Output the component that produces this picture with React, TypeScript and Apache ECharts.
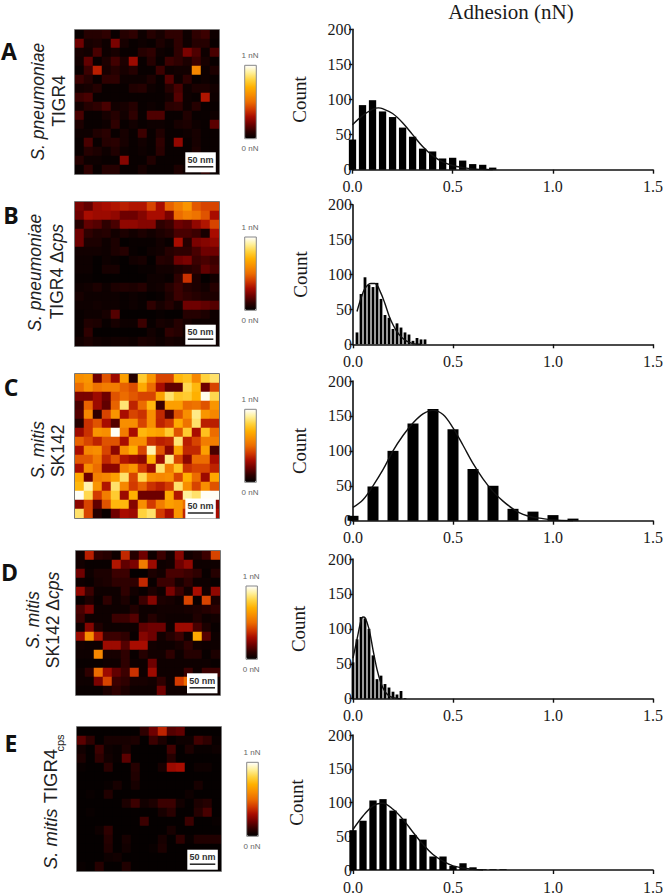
import React, { useEffect, useRef } from "react";
import * as echarts from "echarts";

const mapA = [
  [.02,.08,.08,.1,.02,.08,.1,.03,.08,.05,.1,.1,.03,.1,.12,.03],
  [.2,.05,.06,.03,.22,.05,.02,.03,.02,.06,.03,.1,.03,.08,.08,.02],
  [.05,.04,.14,.03,.05,.02,.02,.08,.1,.03,.02,.1,.22,.15,.03,.14],
  [.04,.18,.02,.06,.13,.06,.28,.02,.08,.02,.12,.1,.06,.12,.05,.02],
  [.02,.12,.34,.05,.08,.05,.08,.02,.02,.12,.03,.04,.04,.58,.03,.06],
  [.12,.08,.02,.1,.1,.03,.03,.03,.06,.02,.16,.03,.1,.02,.03,.02],
  [.04,.05,.08,.02,.02,.02,.07,.08,.03,.02,.08,.14,.03,.06,.06,.04],
  [.12,.14,.02,.02,.02,.02,.02,.02,.02,.02,.04,.16,.03,.02,.32,.03],
  [.04,.08,.1,.14,.04,.05,.08,.02,.03,.02,.09,.1,.03,.08,.02,.02],
  [.14,.02,.02,.05,.08,.04,.1,.02,.15,.15,.02,.02,.07,.02,.02,.03],
  [.06,.02,.02,.03,.1,.02,.04,.02,.03,.03,.02,.05,.06,.03,.02,.17],
  [.03,.03,.07,.09,.02,.05,.02,.12,.02,.07,.02,.02,.03,.05,.02,.02],
  [.02,.14,.02,.08,.09,.05,.02,.04,.02,.1,.02,.26,.02,.05,.02,.02],
  [.02,.08,.06,.03,.07,.03,.02,.03,.02,.09,.02,.02,.02,.06,.02,.02],
  [.08,.03,.03,.02,.02,.24,.02,.02,.07,.02,.02,.02,.02,.02,.02,.02],
  [.02,.1,.02,.08,.08,.02,.02,.05,.02,.02,.02,.06,.03,.02,.1,.02],
];
const mapB = [
  [.22,.18,.28,.3,.32,.34,.32,.32,.42,.3,.48,.55,.62,.46,.42,.42],
  [.2,.3,.28,.28,.26,.2,.2,.24,.3,.3,.22,.5,.55,.52,.45,.3],
  [.08,.18,.16,.1,.14,.26,.26,.24,.24,.1,.12,.2,.18,.26,.32,.42],
  [.2,.1,.07,.08,.04,.06,.04,.06,.04,.06,.08,.14,.14,.12,.05,.3],
  [.2,.06,.06,.03,.06,.01,.02,.02,.02,.04,.02,.3,.08,.22,.24,.26],
  [.04,.04,.04,.03,.06,.08,.02,.01,.03,.04,.08,.1,.1,.14,.2,.2],
  [.03,.03,.01,.03,.02,.01,.04,.05,.01,.08,.07,.2,.22,.12,.14,.12],
  [.03,.03,.01,.05,.05,.01,.01,.02,.02,.04,.04,.06,.08,.1,.18,.14],
  [.02,.02,.01,.01,.01,.01,.01,.01,.03,.03,.02,.1,.38,.06,.01,.04],
  [.03,.04,.06,.03,.06,.07,.06,.08,.03,.04,.08,.12,.08,.06,.04,.08],
  [.05,.03,.03,.03,.03,.02,.03,.02,.01,.02,.06,.12,.1,.08,.06,.06],
  [.03,.03,.04,.03,.03,.02,.03,.02,.1,.05,.08,.04,.2,.2,.18,.16],
  [.02,.03,.03,.05,.16,.01,.01,.01,.01,.02,.01,.01,.08,.08,.06,.03],
  [.02,.07,.06,.02,.05,.03,.03,.12,.02,.05,.04,.08,.05,.03,.03,.03],
  [.02,.1,.01,.01,.01,.01,.01,.01,.04,.02,.1,.08,.03,.03,.03,.03],
  [.04,.06,.04,.03,.04,.04,.03,.06,.05,.03,.05,.04,.03,.03,.03,.03],
];
const mapC = [
  [.6,.62,.2,.45,.28,.65,.08,.78,.62,.42,.42,.72,.75,.58,.8,.85],
  [.5,.6,.52,.55,.55,.48,.44,.68,.5,.3,.18,.18,.82,.72,.2,.42],
  [.22,.22,.28,.2,.45,.5,.46,.42,.42,.66,.85,.76,.78,.7,.98,.82],
  [.14,.48,.28,.18,.48,.86,.35,.5,.72,.12,.65,.65,.5,.52,.45,.62],
  [.16,.58,.1,.42,.62,.3,.42,.38,.6,.36,.16,.45,.6,.88,.62,.58],
  [.08,.38,.45,.3,.16,.6,.6,.42,.6,.35,.4,.68,.52,.85,.34,.34],
  [.28,.38,.62,.6,.99,.55,.3,.72,.68,.66,.78,.45,.78,.3,.75,.5],
  [.48,.42,.35,.45,.45,.3,.6,.6,.38,.34,.36,.86,.34,.42,.55,.55],
  [.3,.58,.6,.42,.25,.6,.7,.42,.92,.45,.25,.66,.36,.36,.65,.14],
  [.46,.46,.54,.36,.45,.32,.28,.25,.7,.28,.88,.42,.25,.5,.5,.3],
  [.3,.6,.5,.25,.25,.55,.62,.4,.28,.85,.55,.76,.38,.42,.42,.35],
  [.68,.2,.56,.58,.65,.85,.42,.82,.6,.58,.6,.42,.7,.5,.28,.68],
  [.72,.92,.62,.32,.85,.58,.4,.48,.38,.34,.4,.85,.6,.42,.6,.45],
  [.99,.82,.4,.55,.78,.28,.7,.2,.2,.2,.68,.32,.9,.85,.99,.99],
  [.25,.42,.18,.45,.72,.72,.24,.6,.4,.55,.65,.62,.5,.5,.5,.25],
  [.85,.42,.08,.02,.2,.3,.28,.8,.85,.4,.3,.62,.35,.5,.65,.3],
];
const mapD = [
  [.04,.34,.1,.08,.03,.36,.08,.2,.03,.12,.04,.24,.04,.06,.12,.42],
  [.04,.02,.02,.02,.32,.18,.22,.55,.28,.03,.04,.2,.26,.03,.03,.03],
  [.2,.03,.06,.06,.12,.12,.01,.01,.06,.04,.14,.14,.12,.1,.02,.08],
  [.03,.02,.05,.06,.1,.1,.1,.36,.02,.12,.12,.05,.1,.03,.03,.02],
  [.26,.12,.03,.03,.03,.1,.04,.02,.06,.03,.22,.12,.04,.3,.04,.26],
  [.02,.06,.02,.1,.03,.06,.02,.12,.24,.06,.05,.03,.42,.02,.42,.06],
  [.14,.22,.03,.03,.03,.03,.07,.03,.03,.04,.04,.04,.05,.06,.08,.1],
  [.12,.03,.03,.03,.12,.12,.16,.03,.08,.04,.03,.03,.03,.07,.03,.04],
  [.03,.24,.07,.03,.03,.03,.03,.18,.2,.2,.03,.28,.28,.14,.06,.02],
  [.28,.6,.32,.12,.12,.1,.02,.24,.2,.04,.08,.12,.03,.68,.16,.03],
  [.04,.03,.03,.28,.28,.16,.3,.3,.04,.03,.03,.05,.1,.04,.03,.03],
  [.03,.03,.58,.05,.05,.1,.02,.08,.04,.04,.1,.03,.08,.08,.02,.06],
  [.02,.02,.02,.03,.03,.1,.03,.03,.2,.03,.03,.03,.03,.03,.03,.02],
  [.03,.1,.5,.28,.18,.12,.38,.03,.28,.03,.03,.03,.12,.03,.12,.12],
  [.03,.03,.22,.42,.12,.1,.05,.05,.04,.1,.03,.4,.5,.03,.1,.03],
  [.02,.02,.02,.06,.1,.06,.03,.03,.03,.2,.03,.03,.03,.03,.03,.03],
];
const mapE = [
  [.01,.01,.01,.01,.01,.01,.01,.1,.2,.35,.16,.18,.01,.01,.01,.01],
  [.17,.1,.01,.05,.05,.05,.06,.01,.12,.06,.01,.03,.03,.13,.1,.02],
  [.04,.01,.12,.03,.02,.06,.01,.01,.01,.01,.13,.01,.06,.02,.02,.03],
  [.06,.01,.1,.04,.02,.17,.01,.01,.01,.01,.08,.01,.01,.01,.01,.01],
  [.02,.01,.01,.09,.01,.01,.08,.01,.01,.05,.28,.3,.01,.03,.03,.01],
  [.01,.01,.01,.01,.01,.01,.07,.01,.01,.01,.01,.01,.01,.01,.01,.01],
  [.01,.01,.01,.02,.05,.01,.05,.01,.01,.01,.01,.01,.01,.05,.01,.01],
  [.01,.02,.01,.07,.01,.01,.01,.01,.01,.01,.01,.01,.03,.01,.01,.01],
  [.01,.01,.01,.01,.01,.06,.12,.04,.06,.12,.12,.04,.01,.06,.08,.01],
  [.01,.02,.01,.01,.01,.01,.01,.01,.01,.05,.09,.01,.01,.08,.14,.01],
  [.01,.01,.01,.01,.01,.01,.01,.12,.01,.01,.01,.01,.12,.01,.01,.02],
  [.01,.01,.03,.1,.01,.01,.01,.01,.01,.01,.05,.01,.01,.01,.01,.01],
  [.01,.01,.01,.08,.01,.05,.01,.01,.01,.05,.01,.1,.02,.07,.07,.07],
  [.01,.01,.01,.07,.01,.04,.01,.01,.02,.06,.01,.01,.01,.01,.01,.01],
  [.01,.01,.01,.03,.04,.01,.01,.01,.01,.01,.01,.01,.01,.01,.01,.01],
  [.02,.01,.08,.01,.01,.07,.01,.01,.01,.01,.01,.01,.01,.01,.01,.01],
];

const barsA = [[0,43],[.05,92],[.1,99],[.15,83],[.2,75],[.25,60],[.3,47],[.35,30],[.4,26],[.45,16],[.5,17],[.55,13],[.6,8],[.65,7],[.7,3]];
const barsB = [[.02,17],[.04,72],[.06,96],[.08,85],[.1,82],[.12,88],[.14,65],[.16,42],[.18,38],[.2,22],[.22,30],[.24,24],[.26,17],[.28,14],[.3,5],[.32,9],[.34,7],[.36,7]];
const barsC = [[0,7],[.1,49],[.2,100],[.3,139],[.4,160],[.5,131],[.6,74],[.7,50],[.8,17],[.9,13],[1,8],[1.1,3]];
const barsD = [[0,52],[.02,85],[.04,117],[.06,115],[.08,100],[.1,62],[.12,28],[.14,33],[.16,21],[.18,16],[.2,10],[.22,6],[.24,11],[.26,1]];
const barsE = [[0,59],[.05,73],[.1,103],[.15,105],[.2,88],[.25,76],[.3,52],[.35,45],[.4,20],[.45,20],[.5,6],[.55,10],[.6,4],[.65,1],[.7,1],[.75,1]];

const fitA = [[0,64],[.05,77],[.1,86],[.13,88],[.15,87],[.2,80],[.25,67],[.3,50],[.35,33],[.4,20],[.45,11],[.5,6],[.55,3],[.6,1],[.65,.4],[.7,0]];
const fitB = [[.02,47],[.04,66],[.06,80],[.09,87],[.11,87],[.14,73],[.16,58],[.18,41],[.2,28],[.22,18],[.24,11],[.26,6],[.28,3],[.3,1],[.34,0]];
const fitC = [[0,19],[.05,30],[.1,50],[.15,73],[.2,100],[.25,122],[.3,140],[.35,153],[.4,158],[.45,152],[.5,133],[.55,108],[.6,82],[.65,60],[.7,42],[.75,28],[.8,17],[.85,9],[.9,5],[.95,3],[1,1],[1.1,0]];
const fitD = [[0,58],[.02,85],[.04,112],[.05,117],[.06,116],[.08,100],[.1,70],[.12,42],[.14,22],[.16,10],[.18,4],[.2,1.5],[.22,.5],[.24,0]];
const fitE = [[0,60],[.05,80],[.1,95],[.14,99],[.15,99],[.2,90],[.25,75],[.3,56],[.35,38],[.4,23],[.45,13],[.5,6],[.55,3],[.6,1],[.65,0]];

const heatColors = ["#000000","#2e0000","#6e0000","#a80c00","#d23a00","#ec6c00","#f88e00","#ffb000","#ffd23c","#fff09a","#ffffff"];
const xTicks = [0, 0.5, 1, 1.5];
const scaleLabel = "50 nm";
const mapLabels = ["1 nN", "0 nN"];
const panelLetters = ["A", "B", "C", "D", "E"];

const maps = [mapA, mapB, mapC, mapD, mapE];
const bars = [barsA, barsB, barsC, barsD, barsE];
const fits = [fitA, fitB, fitC, fitD, fitE];
const barWidths = [7.3, 2.8, 11, 2.8, 7.3];

const MAP_SIZE = 144;
const mapBoxes = [
  { x: 75, y: 30 },
  { x: 75, y: 202 },
  { x: 75, y: 374 },
  { x: 76, y: 551 },
  { x: 77, y: 727 },
];
const histBoxes = [
  { x: 352.5, y: 29.3, h: 140.4, gap: 44 },
  { x: 353, y: 204.7, h: 139.6, gap: 43 },
  { x: 353, y: 381, h: 139.7, gap: 44 },
  { x: 353, y: 559, h: 139.7, gap: 45 },
  { x: 353, y: 735, h: 139.7, gap: 47 },
];
const barBoxes = [
  { x: 244.7, y: 65.3, w: 11.6, h: 73.4 },
  { x: 244.7, y: 237, w: 11.6, h: 73.3 },
  { x: 244.7, y: 409.3, w: 11.6, h: 73 },
  { x: 246, y: 586, w: 11.4, h: 73.3 },
  { x: 246.7, y: 762.3, w: 11.6, h: 74 },
];
const scaleBoxes = [
  { x: 185.3, y: 152.3 },
  { x: 185.3, y: 324.7 },
  { x: 185.3, y: 498.5 },
  { x: 187, y: 673.3 },
  { x: 187.3, y: 849.7 },
];
const letterPos = [[9, 50.5], [11, 215], [11, 387], [9.5, 572], [11, 742.5]];

const SANS = "Liberation Sans";
const SERIF = "Liberation Serif";

function sideText(x: number, y: number, text: string, opts: any = {}) {
  const size = opts.fontSize || 17.5;
  return {
    type: "text", x, y, rotation: Math.PI / 2, z: 100,
    style: {
      text, align: "center", verticalAlign: "middle", fill: "#222",
      fontFamily: SANS, fontSize: size, fontStyle: opts.italic ? "italic" : "normal",
      rich: {
        i: { fontFamily: SANS, fontSize: size, fontStyle: "italic", fill: "#222" },
        n: { fontFamily: SANS, fontSize: size, fill: "#222" },
      },
    },
  };
}

export default function App() {
  const ref = useRef<HTMLDivElement>(null);
  useEffect(() => {
    document.body.style.margin = "0";
    const chart = echarts.init(ref.current!, undefined, { renderer: "svg" });
    const idx16 = Array.from({ length: 16 }, (_, i) => String(i));
    const grid: any[] = [];
    const xAxis: any[] = [];
    const yAxis: any[] = [];
    const series: any[] = [];
    const visualMap: any[] = [];
    const elements: any[] = [];

    maps.forEach((m, p) => {
      const b = mapBoxes[p];
      grid.push({ left: b.x, top: b.y, width: MAP_SIZE, height: MAP_SIZE, containLabel: false });
      xAxis.push({ type: "category", gridIndex: p, data: idx16, show: false });
      yAxis.push({ type: "category", gridIndex: p, data: idx16, show: false, inverse: true });
      const data: number[][] = [];
      m.forEach((row, r) => row.forEach((v, c) => data.push([c, r, v])));
      series.push({ type: "heatmap", xAxisIndex: p, yAxisIndex: p, data, silent: true, progressive: 0 });
      const cb = barBoxes[p];
      visualMap.push({
        type: "continuous", seriesIndex: p, dimension: 2, min: 0, max: 1, calculable: false,
        realtime: false, orient: "vertical", left: cb.x, top: cb.y,
        itemWidth: cb.w, itemHeight: cb.h, padding: 0, text: null, showLabel: false,
        inRange: { color: heatColors },
      });
      elements.push({ type: "rect", z: 90, shape: { x: b.x - 0.5, y: b.y - 0.5, width: MAP_SIZE + 1, height: MAP_SIZE + 1 }, style: { fill: "none", stroke: "#777", lineWidth: 1 } });
      elements.push({ type: "rect", z: 90, shape: { x: cb.x, y: cb.y, width: cb.w, height: cb.h }, style: { fill: "none", stroke: "#888", lineWidth: 1 } });
      const mid = cb.x + cb.w / 2 - 0.5;
      elements.push({ type: "text", z: 90, x: mid, y: cb.y - 9.6, style: { text: mapLabels[0], align: "center", verticalAlign: "middle", lineHeight: 9, fontFamily: SANS, fontSize: 8, fill: "#666" } });
      elements.push({ type: "text", z: 90, x: mid, y: cb.y + cb.h + 10, style: { text: mapLabels[1], align: "center", verticalAlign: "middle", lineHeight: 9, fontFamily: SANS, fontSize: 8, fill: "#666" } });
      const s = scaleBoxes[p];
      elements.push({ type: "rect", z: 95, shape: { x: s.x, y: s.y, width: 30.5, height: 20 }, style: { fill: "#fff", stroke: null } });
      elements.push({ type: "line", z: 96, shape: { x1: s.x + 2.5, y1: s.y + 14.5, x2: s.x + 28, y2: s.y + 14.5 }, style: { stroke: "#222", lineWidth: 1.5 } });
      elements.push({ type: "text", z: 96, x: s.x + 15.2, y: s.y + 7.5, style: { text: scaleLabel, align: "center", verticalAlign: "middle", fontFamily: SANS, fontSize: 9, fontWeight: "bold", fill: "#333" } });
      elements.push({ type: "text", z: 100, x: letterPos[p][0], y: letterPos[p][1], style: { text: panelLetters[p], align: "center", verticalAlign: "middle", fontFamily: "Open Sans", fontWeight: "bold", fontSize: 23, fill: "#111" } });
    });

    bars.forEach((bar, p) => {
      const h = histBoxes[p];
      const g = p + 5;
      grid.push({ left: h.x, top: h.y, width: 303.2, height: h.h, containLabel: false });
      xAxis.push({
        type: "value", gridIndex: g, min: 0, max: 1.5, interval: 0.5,
        axisLine: { show: true, lineStyle: { color: "#111", width: 1.6 } },
        axisTick: { show: true, length: 4, lineStyle: { color: "#111", width: 1.4 } },
        axisLabel: { margin: 11, lineHeight: 12, color: "#1a1a1a", fontFamily: SERIF, fontSize: 16,
          customValues: xTicks, formatter: (v: number) => v.toFixed(1), hideOverlap: false },
        splitLine: { show: false },
      });
      yAxis.push({
        type: "value", gridIndex: g, min: 0, max: 200, interval: 50,
        name: "Count", nameLocation: "middle", nameGap: h.gap,
        nameTextStyle: { color: "#1a1a1a", fontFamily: SERIF, fontSize: 19 },
        axisLine: { show: true, lineStyle: { color: "#111", width: 1.6 } },
        axisTick: { show: true, length: 3.5, lineStyle: { color: "#111", width: 1.4 } },
        axisLabel: { margin: 1, lineHeight: 12, color: "#1a1a1a", fontFamily: SERIF, fontSize: 16 },
        splitLine: { show: false },
      });
      series.push({ type: "bar", xAxisIndex: g, yAxisIndex: g, data: bar, barWidth: barWidths[p], itemStyle: { color: "#000" }, silent: true, clip: true });
      series.push({ type: "line", xAxisIndex: g, yAxisIndex: g, data: fits[p], showSymbol: false, smooth: 0.35, silent: true, clip: true, lineStyle: { color: "#111", width: 1.4 }, z: 5 });
    });

    elements.push({ type: "text", z: 100, x: 511, y: 11.5, style: { text: "Adhesion (nN)", align: "center", verticalAlign: "middle", fontFamily: SERIF, fontSize: 21, fill: "#1a1a1a" } });
    elements.push(sideText(38, 101.7, "S. pneumoniae", { italic: true }));
    elements.push(sideText(59, 101, "TIGR4"));
    elements.push(sideText(35, 272.7, "S. pneumoniae", { italic: true }));
    elements.push(sideText(57, 271.7, "{n|TIGR4 Δ}{i|cps}"));
    elements.push(sideText(38, 450, "S. mitis", { italic: true }));
    elements.push(sideText(58, 450.8, "SK142"));
    elements.push(sideText(33, 620, "S. mitis", { italic: true }));
    elements.push(sideText(53, 620, "{n|SK142 Δ}{i|cps}"));
    elements.push(sideText(50, 809, "{i|S. mitis} {n|TIGR4}", { fontSize: 18.5 }));
    elements.push(sideText(60, 743, "cps", { fontSize: 11 }));

    chart.setOption({
      animation: false,
      backgroundColor: "#fff",
      grid, xAxis, yAxis, series, visualMap,
      graphic: { elements },
    });
    return () => chart.dispose();
  }, []);
  return <div ref={ref} style={{ width: 666, height: 895 }} />;
}
